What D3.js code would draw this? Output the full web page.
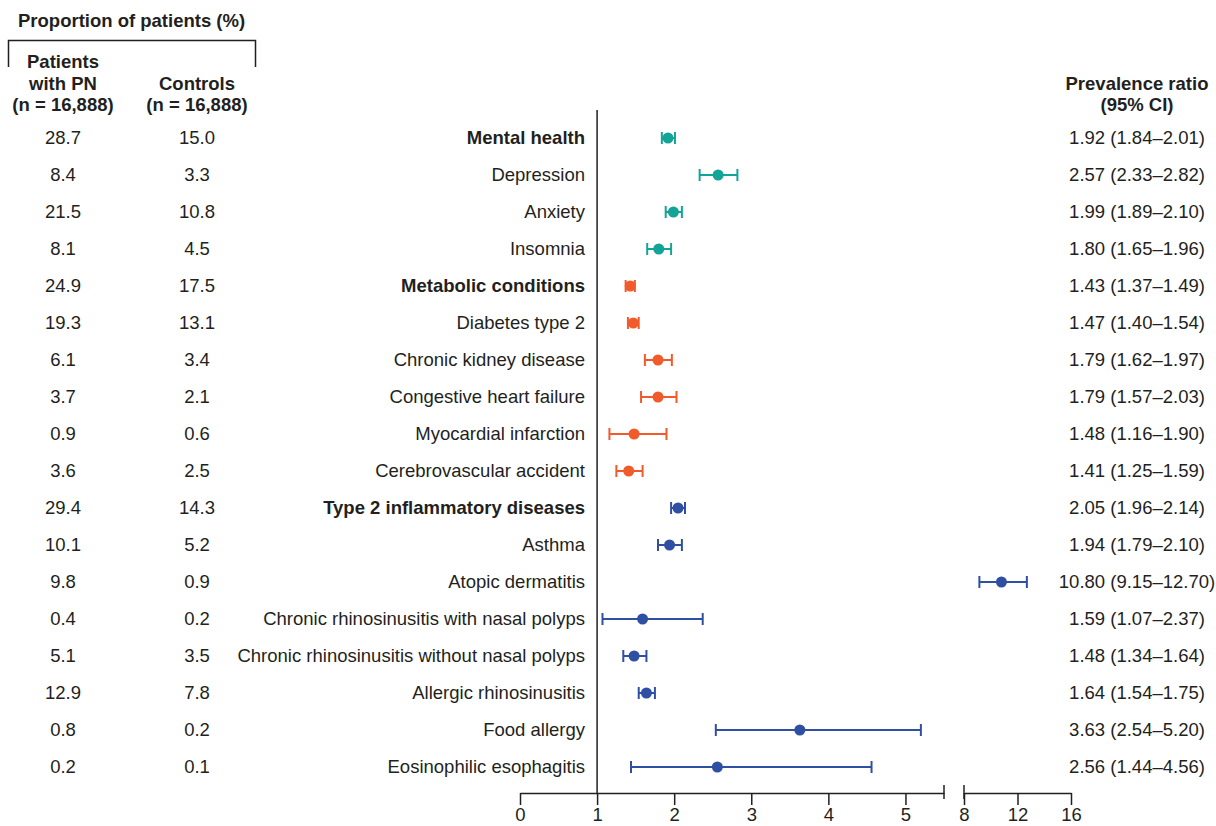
<!DOCTYPE html>
<html>
<head>
<meta charset="utf-8">
<script src="https://cdn.jsdelivr.net/npm/d3@7"></script>
<style>
  body { margin: 0; background: #fff; }
  svg text { font-family: "Liberation Sans", Arial, sans-serif; fill: #231f20; }
</style>
</head>
<body>
<div class="graph"></div>
<script>
// Row labels, top to bottom
const labels = [
    "Mental health", "Depression", "Anxiety", "Insomnia",
    "Metabolic conditions", "Diabetes type 2", "Chronic kidney disease",
    "Congestive heart failure", "Myocardial infarction", "Cerebrovascular accident",
    "Type 2 inflammatory diseases", "Asthma", "Atopic dermatitis",
    "Chronic rhinosinusitis with nasal polyps", "Chronic rhinosinusitis without nasal polyps",
    "Allergic rhinosinusitis", "Food allergy", "Eosinophilic esophagitis"
];
const headerRows = ["Mental health", "Metabolic conditions", "Type 2 inflammatory diseases"];
const groups = ["mental", "mental", "mental", "mental",
    "metabolic", "metabolic", "metabolic", "metabolic", "metabolic", "metabolic",
    "type2", "type2", "type2", "type2", "type2", "type2", "type2", "type2"];

const pnPct = [28.7, 8.4, 21.5, 8.1, 24.9, 19.3, 6.1, 3.7, 0.9, 3.6, 29.4, 10.1, 9.8, 0.4, 5.1, 12.9, 0.8, 0.2];
const ctrlPct = [15.0, 3.3, 10.8, 4.5, 17.5, 13.1, 3.4, 2.1, 0.6, 2.5, 14.3, 5.2, 0.9, 0.2, 3.5, 7.8, 0.2, 0.1];

const ratio = [1.92, 2.57, 1.99, 1.80, 1.43, 1.47, 1.79, 1.79, 1.48, 1.41, 2.05, 1.94, 10.80, 1.59, 1.48, 1.64, 3.63, 2.56];
const ciLow = [1.84, 2.33, 1.89, 1.65, 1.37, 1.40, 1.62, 1.57, 1.16, 1.25, 1.96, 1.79, 9.15, 1.07, 1.34, 1.54, 2.54, 1.44];
const ciHigh = [2.01, 2.82, 2.10, 1.96, 1.49, 1.54, 1.97, 2.03, 1.90, 1.59, 2.14, 2.10, 12.70, 2.37, 1.64, 1.75, 5.20, 4.56];

const ticksLeft = [0, 1, 2, 3, 4, 5];
const ticksRight = [8, 12, 16];

const colors = { mental: "#14a497", metabolic: "#f15a2b", type2: "#2f4fa2" };

const data = labels.map((l, i) => ({
    label: l, group: groups[i], pn: pnPct[i], ctrl: ctrlPct[i],
    pr: ratio[i], lo: ciLow[i], hi: ciHigh[i]
}));

const width = 1216, height = 826;
const fontSize = 18.5;

const svg = d3.select(".graph").append("svg")
    .attr("width", width)
    .attr("height", height);

// broken x axis: two linear pieces
const xLeft = d3.scaleLinear().domain([0, 5.5]).range([520, 944]);
const xRight = d3.scaleLinear().domain([8, 16]).range([964, 1071]);
const x = v => v <= 5.5 ? xLeft(v) : xRight(v);

const yScale = d3.scalePoint()
    .domain(d3.range(data.length))
    .range([138, 767]);

const axisY = 793;

// header block
svg.append("text")
    .attr("x", 18).attr("y", 27)
    .attr("font-size", fontSize).attr("font-weight", "bold")
    .text("Proportion of patients (%)");

svg.append("path")
    .attr("d", "M8.5,67V40.5H255.5V67")
    .attr("fill", "none").attr("stroke", "#231f20").attr("stroke-width", 1.5);

const colPN = 63, colCtrl = 197, colLabel = 585, colPR = 1137;

function headerLines(xc, lines, y0) {
    const t = svg.append("text")
        .attr("x", xc).attr("text-anchor", "middle")
        .attr("font-size", fontSize).attr("font-weight", "bold");
    lines.forEach((s, i) => {
        t.append("tspan").attr("x", xc).attr("y", y0 + i * 21.5).text(s);
    });
}
headerLines(colPN, ["Patients", "with PN", "(n = 16,888)"], 68);
headerLines(colCtrl, ["Controls", "(n = 16,888)"], 89.5);
headerLines(colPR, ["Prevalence ratio", "(95% CI)"], 89.5);

// table text
const rows = svg.append("g").selectAll("g")
    .data(data)
    .join("g")
        .attr("transform", (d, i) => `translate(0,${yScale(i)})`);

rows.append("text")
    .attr("x", colPN).attr("dy", "0.35em")
    .attr("text-anchor", "middle").attr("font-size", fontSize)
    .text(d => d.pn.toFixed(1));

rows.append("text")
    .attr("x", colCtrl).attr("dy", "0.35em")
    .attr("text-anchor", "middle").attr("font-size", fontSize)
    .text(d => d.ctrl.toFixed(1));

rows.append("text")
    .attr("x", colLabel).attr("dy", "0.35em")
    .attr("text-anchor", "end").attr("font-size", fontSize)
    .attr("font-weight", d => headerRows.includes(d.label) ? "bold" : "normal")
    .text(d => d.label);

rows.append("text")
    .attr("x", colPR).attr("dy", "0.35em")
    .attr("text-anchor", "middle").attr("font-size", fontSize)
    .text(d => `${d.pr.toFixed(2)} (${d.lo.toFixed(2)}\u2013${d.hi.toFixed(2)})`);

// reference line at 1
svg.append("line")
    .attr("x1", x(1)).attr("x2", x(1))
    .attr("y1", 110).attr("y2", axisY)
    .attr("stroke", "#231f20").attr("stroke-width", 1.5);

// CIs and points
const marks = rows.append("g")
    .attr("stroke", d => colors[d.group])
    .attr("fill", d => colors[d.group]);

marks.append("line")
    .attr("x1", d => x(d.lo)).attr("x2", d => x(d.hi))
    .attr("stroke-width", 2);
marks.append("line")
    .attr("x1", d => x(d.lo)).attr("x2", d => x(d.lo))
    .attr("y1", -6).attr("y2", 6).attr("stroke-width", 2);
marks.append("line")
    .attr("x1", d => x(d.hi)).attr("x2", d => x(d.hi))
    .attr("y1", -6).attr("y2", 6).attr("stroke-width", 2);
marks.append("circle")
    .attr("cx", d => x(d.pr)).attr("r", 5.5)
    .attr("stroke", "none");

// axes
function drawAxis(scale, ticks) {
    const g = svg.append("g")
        .attr("transform", `translate(0,${axisY})`)
        .call(d3.axisBottom(scale).tickValues(ticks).tickFormat(d3.format("d"))
            .tickSize(12).tickSizeOuter(0).tickPadding(3));
    g.select(".domain").attr("stroke", "#231f20").attr("stroke-width", 1.5);
    g.selectAll(".tick line").attr("stroke", "#231f20").attr("stroke-width", 1.5);
    g.selectAll(".tick text")
        .attr("font-family", "Liberation Sans, Arial, sans-serif")
        .attr("font-size", fontSize).attr("fill", "#231f20");
    return g;
}
drawAxis(xLeft, ticksLeft);
drawAxis(xRight, ticksRight);

// break caps
[xLeft(5.5), xRight(8)].forEach(px => {
    svg.append("line")
        .attr("x1", px).attr("x2", px)
        .attr("y1", axisY - 8).attr("y2", axisY + 6)
        .attr("stroke", "#231f20").attr("stroke-width", 1.5);
});
</script>
</body>
</html>
